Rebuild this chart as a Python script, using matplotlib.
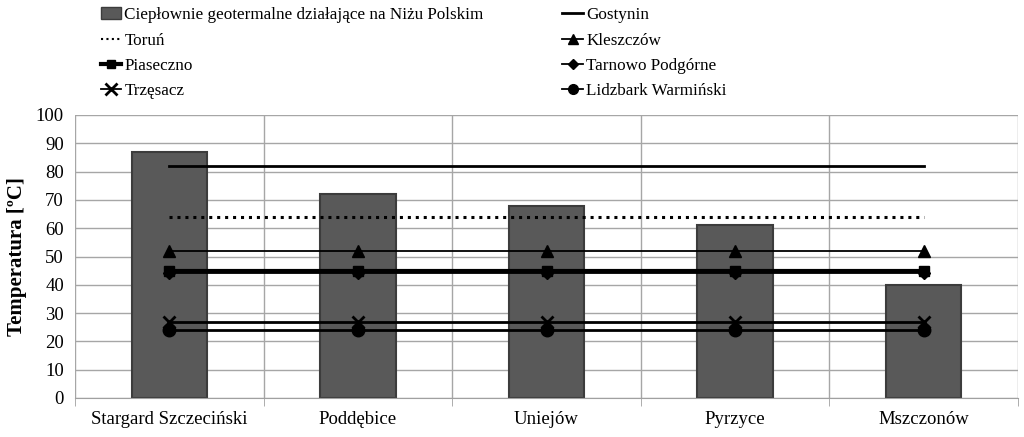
import matplotlib
matplotlib.use("Agg")
import matplotlib.pyplot as plt
import numpy as np
from matplotlib.lines import Line2D
from matplotlib.patches import Patch

plt.rcParams['font.family'] = ['Liberation Serif', 'DejaVu Serif']

categories = ["Stargard Szczeciński", "Poddębice", "Uniejów", "Pyrzyce", "Mszczonów"]
bar_values = [87, 72, 68, 61, 40]
bar_label = "Ciepłownie geotermalne działające na Niżu Polskim"

gostynin = [82, 82, 82, 82, 82]
torun = [64, 64, 64, 64, 64]
kleszczow = [52, 52, 52, 52, 52]
piaseczno = [45, 45, 45, 45, 45]
tarnowo = [44, 44, 44, 44, 44]
trzesacz = [27, 27, 27, 27, 27]
lidzbark = [24, 24, 24, 24, 24]

yticks = list(range(0, 101, 10))

fig = plt.figure(figsize=(10.24, 4.37), dpi=100)
ax = fig.add_axes([75/1024, 1-398/437, 943/1024, 283/437])

x = np.arange(len(categories))
ax.bar(x, bar_values, width=0.4, color="#595959", edgecolor="#3c3c3c", linewidth=1.5,
       zorder=2, label=bar_label)

ax.plot(x, gostynin, color="black", lw=2, zorder=3, label="Gostynin")
ax.plot(x, torun, color="black", lw=2.2, ls=(0, (1, 1.6)), zorder=3, label="Toruń")
ax.plot(x, kleszczow, color="black", lw=1.3, marker="^", ms=8, zorder=3, label="Kleszczów")
ax.plot(x, piaseczno, color="black", lw=3, marker="s", ms=7, zorder=3, label="Piaseczno")
ax.plot(x, tarnowo, color="black", lw=1.3, marker="D", ms=6, zorder=3, label="Tarnowo Podgórne")
ax.plot(x, trzesacz, color="black", lw=2, marker="x", ms=9, mew=2, zorder=3, label="Trzęsacz")
ax.plot(x, lidzbark, color="black", lw=2, marker="o", ms=9, zorder=3, label="Lidzbark Warmiński")

ax.set_xlim(-0.5, len(categories) - 0.5)
ax.set_ylim(0, 100)
ax.set_yticks(yticks)
ax.set_xticks(x)
ax.set_xticklabels(categories, fontsize=13.5)
ax.tick_params(axis='x', length=0, pad=9)
ax.tick_params(axis='y', length=0, labelsize=13.5, pad=8)
ax.set_xticks(np.arange(-0.5, len(categories), 1), minor=True)
ax.tick_params(axis='x', which='minor', length=6, color="#a0a0a0")
ax.grid(axis='y', color="#a6a6a6", lw=1, zorder=0)
ax.grid(axis='x', which='minor', color="#a6a6a6", lw=1, zorder=0)
for s in ["top", "right", "left"]:
    ax.spines[s].set_visible(False)
ax.spines["bottom"].set_color("#a0a0a0")
ax.set_ylabel("Temperatura [ºC]", fontsize=15, fontweight="bold", labelpad=6)

handles = [
    Patch(facecolor="#595959", edgecolor="#3c3c3c", label=bar_label),
    Line2D([], [], color="black", lw=1.5, ls=(0, (1, 1.6)), label="Toruń"),
    Line2D([], [], color="black", lw=3, marker="s", ms=6, label="Piaseczno"),
    Line2D([], [], color="black", lw=1.3, marker="x", ms=8, mew=2, label="Trzęsacz"),
    Line2D([], [], color="black", lw=2, label="Gostynin"),
    Line2D([], [], color="black", lw=1.3, marker="^", ms=7, label="Kleszczów"),
    Line2D([], [], color="black", lw=1.3, marker="D", ms=5, label="Tarnowo Podgórne"),
    Line2D([], [], color="black", lw=1.3, marker="o", ms=7, label="Lidzbark Warmiński"),
]
fig.legend(handles=handles, ncol=2, loc="upper left", bbox_to_anchor=(92/1024, 1.003),
           frameon=False, fontsize=12.3, handlelength=1.2, handletextpad=0.2,
           columnspacing=4.6, labelspacing=0.55, borderaxespad=0.1)

fig.savefig("out.png", dpi=100)
